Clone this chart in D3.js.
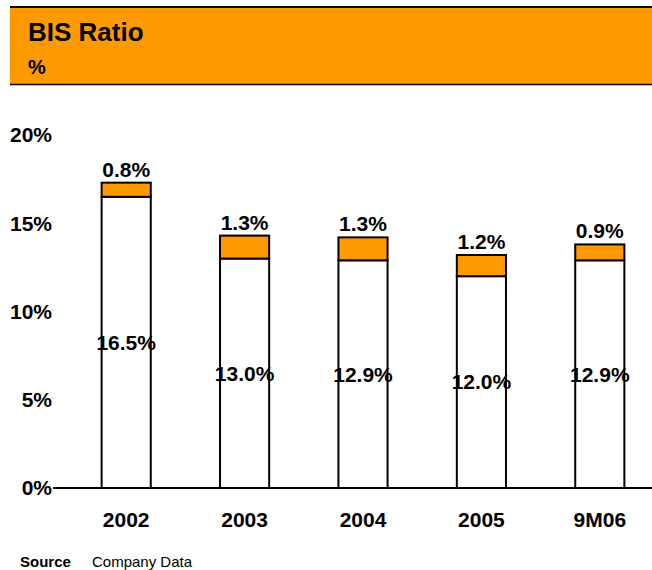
<!DOCTYPE html>
<html>
<head>
<meta charset="utf-8">
<script src="https://cdn.jsdelivr.net/npm/d3@7"></script>
<style>
  html, body { margin: 0; padding: 0; background: #fff; }
  svg { display: block; font-family: Arial, "Liberation Sans", sans-serif; }
</style>
</head>
<body>
<svg id="chart" width="652" height="570"></svg>
<script>
// BIS ratio by period: core (Tier 1) portion and additional (Tier 2) portion, in %
const categories = ["2002", "2003", "2004", "2005", "9M06"];
const tier1 = [16.5, 13.0, 12.9, 12.0, 12.9];
const tier2 = [0.8, 1.3, 1.3, 1.2, 0.9];
const yTicks = [0, 5, 10, 15, 20];

const orange = "#FF9900";
const svg = d3.select("#chart");

// Header band
svg.append("rect").attr("x", 10).attr("y", 8).attr("width", 642).attr("height", 76).attr("fill", orange);
svg.append("line").attr("x1", 10).attr("x2", 652).attr("y1", 7).attr("y2", 7).attr("stroke", "#000").attr("stroke-width", 2);
svg.append("line").attr("x1", 10).attr("x2", 652).attr("y1", 84.5).attr("y2", 84.5).attr("stroke", "#000").attr("stroke-width", 1.5);
svg.append("text").attr("x", 28).attr("y", 41).attr("font-size", 26).attr("font-weight", "bold").text("BIS Ratio");
svg.append("text").attr("x", 28).attr("y", 74).attr("font-size", 20).attr("font-weight", "bold").text("%");

// Scales
const y = d3.scaleLinear().domain([0, 20]).range([488, 135]);
const x = d3.scaleBand().domain(categories).range([67, 659]).paddingInner(0.585).paddingOuter(0.2925);

// Y tick labels
svg.append("g").selectAll("text").data(yTicks).join("text")
  .attr("x", 52).attr("y", d => y(d)).attr("dy", "0.35em")
  .attr("text-anchor", "end").attr("font-size", 21).attr("font-weight", "bold")
  .text(d => d + "%");

// Bars
const rows = categories.map((c, i) => ({ c, t1: tier1[i], t2: tier2[i] }));
const g = svg.append("g");
g.selectAll("rect.t1").data(rows).join("rect").attr("class", "t1")
  .attr("x", d => x(d.c)).attr("width", x.bandwidth())
  .attr("y", d => y(d.t1)).attr("height", d => y(0) - y(d.t1))
  .attr("fill", "#fff").attr("stroke", "#000").attr("stroke-width", 2);
g.selectAll("rect.t2").data(rows).join("rect").attr("class", "t2")
  .attr("x", d => x(d.c)).attr("width", x.bandwidth())
  .attr("y", d => y(d.t1 + d.t2)).attr("height", d => y(d.t1) - y(d.t1 + d.t2))
  .attr("fill", orange).attr("stroke", "#000").attr("stroke-width", 2);

// Baseline
svg.append("line").attr("x1", 53).attr("x2", 652).attr("y1", y(0)).attr("y2", y(0))
  .attr("stroke", "#000").attr("stroke-width", 2);

// Value labels
g.selectAll("text.v1").data(rows).join("text").attr("class", "v1")
  .attr("x", d => x(d.c) + x.bandwidth() / 2).attr("y", d => y(d.t1 / 2)).attr("dy", "0.35em")
  .attr("text-anchor", "middle").attr("font-size", 21).attr("font-weight", "bold")
  .text(d => d.t1.toFixed(1) + "%");
g.selectAll("text.v2").data(rows).join("text").attr("class", "v2")
  .attr("x", d => x(d.c) + x.bandwidth() / 2).attr("y", d => y(d.t1 + d.t2) - 6)
  .attr("text-anchor", "middle").attr("font-size", 21).attr("font-weight", "bold")
  .text(d => d.t2.toFixed(1) + "%");

// Category labels
svg.append("g").selectAll("text").data(categories).join("text")
  .attr("x", d => x(d) + x.bandwidth() / 2).attr("y", 527)
  .attr("text-anchor", "middle").attr("font-size", 21).attr("font-weight", "bold")
  .text(d => d);

// Source note
svg.append("text").attr("x", 20).attr("y", 567).attr("font-size", 15).attr("font-weight", "bold").text("Source");
svg.append("text").attr("x", 92).attr("y", 567).attr("font-size", 15).text("Company Data");
</script>
</body>
</html>
